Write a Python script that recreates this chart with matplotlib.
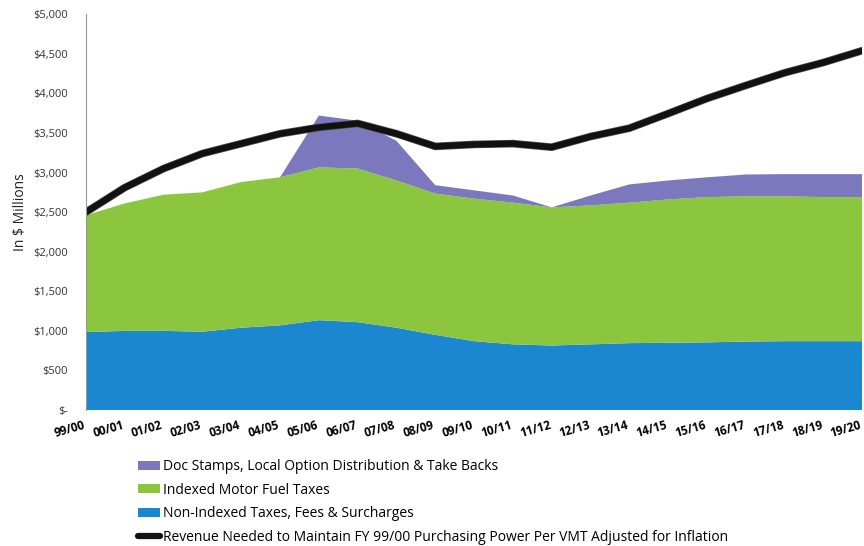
import numpy as np
import matplotlib.pyplot as plt
import matplotlib.patheffects as pe
import matplotlib.transforms as mtransforms
from matplotlib.patches import Patch
from matplotlib.lines import Line2D
from matplotlib.ticker import FuncFormatter

years = ['99/00', '00/01', '01/02', '02/03', '03/04', '04/05', '05/06', '06/07',
         '07/08', '08/09', '09/10', '10/11', '11/12', '12/13', '13/14', '14/15',
         '15/16', '16/17', '17/18', '18/19', '19/20']

# $ millions
non_indexed = [985, 1000, 1000, 990, 1040, 1070, 1135, 1110, 1040, 950, 870,
               830, 815, 830, 845, 850, 855, 865, 870, 870, 870]
indexed_fuel = [1475, 1610, 1720, 1760, 1840, 1870, 1930, 1940, 1860, 1785, 1800,
                1790, 1745, 1755, 1775, 1810, 1835, 1835, 1830, 1820, 1820]
doc_stamps = [0, 0, 0, 0, 0, 0, 655, 605, 500, 105, 105,
              90, 0, 125, 230, 240, 250, 275, 280, 290, 290]
revenue_needed = [2500, 2810, 3050, 3240, 3365, 3490, 3570, 3620, 3490, 3330, 3355,
                  3365, 3320, 3455, 3560, 3745, 3935, 4100, 4260, 4390, 4540]

plt.rcParams['font.family'] = ['Open Sans', 'DejaVu Sans']

fig = plt.figure(figsize=(8.64, 5.46), dpi=100)
ax = fig.add_axes([0.0995, 0.249, 0.8985, 0.725])

x = np.arange(len(years))
c_blue, c_green, c_purple = '#1B87D0', '#8CC63E', '#7C78BE'
ax.stackplot(x, non_indexed, indexed_fuel, doc_stamps,
             colors=[c_blue, c_green, c_purple], linewidth=0)
ax.plot(x, revenue_needed, color='#111111', linewidth=4.5, solid_capstyle='round',
        path_effects=[pe.Stroke(linewidth=5.5, foreground='#555555'), pe.Normal()])

ax.set_xlim(0, len(years) - 1)
ax.set_ylim(0, 5000)
ax.set_yticks(np.arange(0, 5001, 500))
ax.yaxis.set_major_formatter(FuncFormatter(lambda v, p: '$-' if v == 0 else f'${v:,.0f}'))

# x labels as plain texts so they can sit a little left of each tick
ax.set_xticks([])
offset = mtransforms.ScaledTranslation(-3 / 100, -9 / 100, fig.dpi_scale_trans)
for i, yr in zip(x, years):
    ax.text(i, 0, yr, transform=ax.get_xaxis_transform() + offset,
            ha='right', va='top', rotation=16, rotation_mode='anchor',
            fontsize=8.5, fontweight='bold')

ax.tick_params(axis='y', labelsize=8, length=0, pad=13, colors='#333333')
for s in ['top', 'right', 'bottom']:
    ax.spines[s].set_visible(False)
ax.spines['left'].set_color('#999999')
ax.spines['left'].set_linewidth(0.8)
ax.set_ylabel('In $ Millions', fontsize=10, labelpad=4, color='#222222')

handles = [Patch(facecolor=c_purple, edgecolor='none'),
           Patch(facecolor=c_green, edgecolor='none'),
           Patch(facecolor=c_blue, edgecolor='none'),
           Line2D([0], [0], color='#111111', linewidth=4.5, solid_capstyle='round')]
labels = ['Doc Stamps, Local Option Distribution & Take Backs',
          'Indexed Motor Fuel Taxes',
          'Non-Indexed Taxes, Fees & Surcharges',
          'Revenue Needed to Maintain FY 99/00 Purchasing Power Per VMT Adjusted for Inflation']
fig.legend(handles, labels, loc='upper left', bbox_to_anchor=(0.152, 0.172),
           frameon=False, fontsize=10, handlelength=1.6, handleheight=0.6,
           handletextpad=0.2, labelspacing=0.62, borderpad=0)

fig.savefig('out.png', dpi=100)
